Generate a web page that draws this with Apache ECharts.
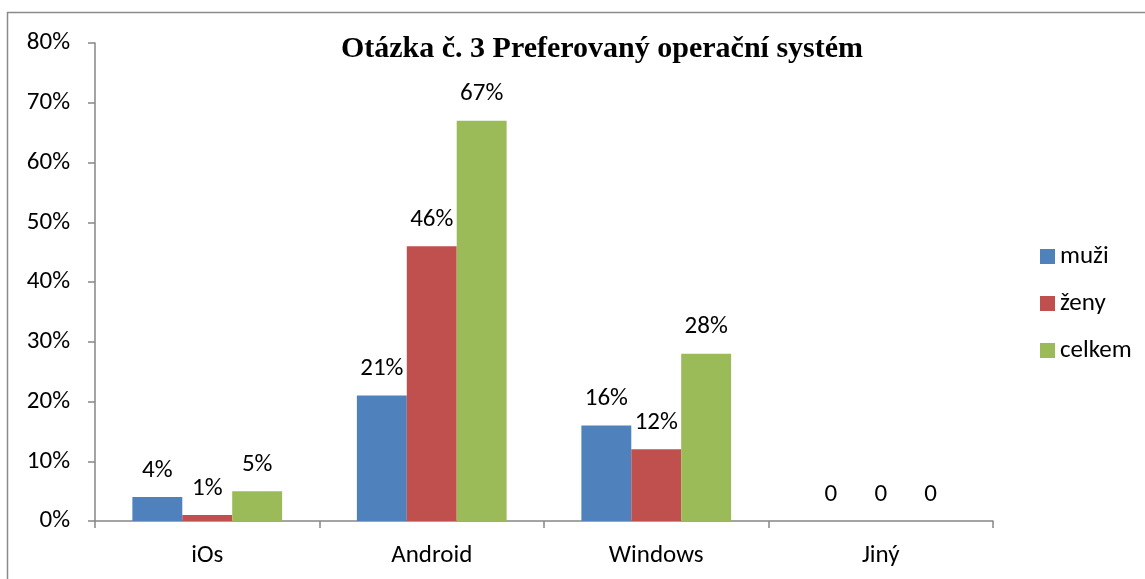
<!DOCTYPE html>
<html>
<head>
<meta charset="utf-8">
<script src="https://cdn.jsdelivr.net/npm/echarts@6/dist/echarts.min.js"></script>
<style>
html,body{margin:0;padding:0;background:#fff;}
#c{width:1145px;height:579px;}
</style>
</head>
<body>
<div id="c"></div>
<script>
const categories = ['iOs', 'Android', 'Windows', 'Jiný'];
const muzi = [0.04, 0.21, 0.16, 0];
const zeny = [0.01, 0.46, 0.12, 0];
const celkem = [0.05, 0.67, 0.28, 0];
const seriesNames = ['muži', 'ženy', 'celkem'];
const yTicks = { min: 0, max: 0.8, interval: 0.1 };

const FONT = 'Carlito, Lato, "Open Sans", sans-serif';
const FS = 25;
const colors = ['#4F81BD', '#C0504D', '#9BBB59'];

function lbl(v) {
  return v === 0 ? '0' : Math.round(v * 100) + '%';
}

const chart = echarts.init(document.getElementById('c'), null, { renderer: 'canvas' });
const dataSets = [muzi, zeny, celkem];

chart.setOption({
  animation: false,
  backgroundColor: '#fff',
  graphic: [{
    type: 'rect',
    shape: { x: 7.5, y: 12.5, width: 1160, height: 600 },
    style: { fill: 'none', stroke: '#8a8a8a', lineWidth: 1.5 },
    silent: true,
    z: -1
  }],
  title: {
    text: 'Otázka č. 3 Preferovaný operační systém',
    left: 597,
    textAlign: 'center',
    top: 29,
    textStyle: { fontFamily: '"Liberation Serif", serif', fontWeight: 'bold', fontSize: 30, color: '#000' }
  },
  legend: {
    orient: 'vertical',
    left: 1035,
    top: 239,
    itemWidth: 15,
    itemHeight: 15,
    itemGap: 22,
    icon: 'rect',
    textStyle: { fontFamily: FONT, fontSize: FS, color: '#000' },
    data: seriesNames
  },
  grid: { left: 95, right: 152, top: 43, bottom: 58, containLabel: false },
  xAxis: {
    type: 'category',
    data: categories,
    axisLine: { lineStyle: { color: '#868686', width: 1.5 } },
    axisTick: { show: true, length: 7, lineStyle: { color: '#868686', width: 1.5 } },
    axisLabel: { fontFamily: FONT, fontSize: FS, color: '#000', margin: 22 }
  },
  yAxis: {
    type: 'value',
    min: yTicks.min,
    max: yTicks.max,
    interval: yTicks.interval,
    axisLine: { show: true, lineStyle: { color: '#868686', width: 1.5 } },
    axisTick: { show: true, length: 7, lineStyle: { color: '#868686', width: 1.5 } },
    splitLine: { show: false },
    axisLabel: {
      fontFamily: FONT, fontSize: FS, color: '#000', margin: 25,
      formatter: v => Math.round(v * 100) + '%'
    }
  },
  series: seriesNames.map((n, i) => ({
    name: n,
    type: 'bar',
    data: dataSets[i],
    barGap: '0%',
    barCategoryGap: '33.3%',
    itemStyle: { color: colors[i] },
    label: {
      show: true,
      position: 'top',
      distance: 14,
      fontFamily: FONT,
      fontSize: FS,
      color: '#000',
      formatter: p => lbl(p.value)
    }
  }))
});
</script>
</body>
</html>
